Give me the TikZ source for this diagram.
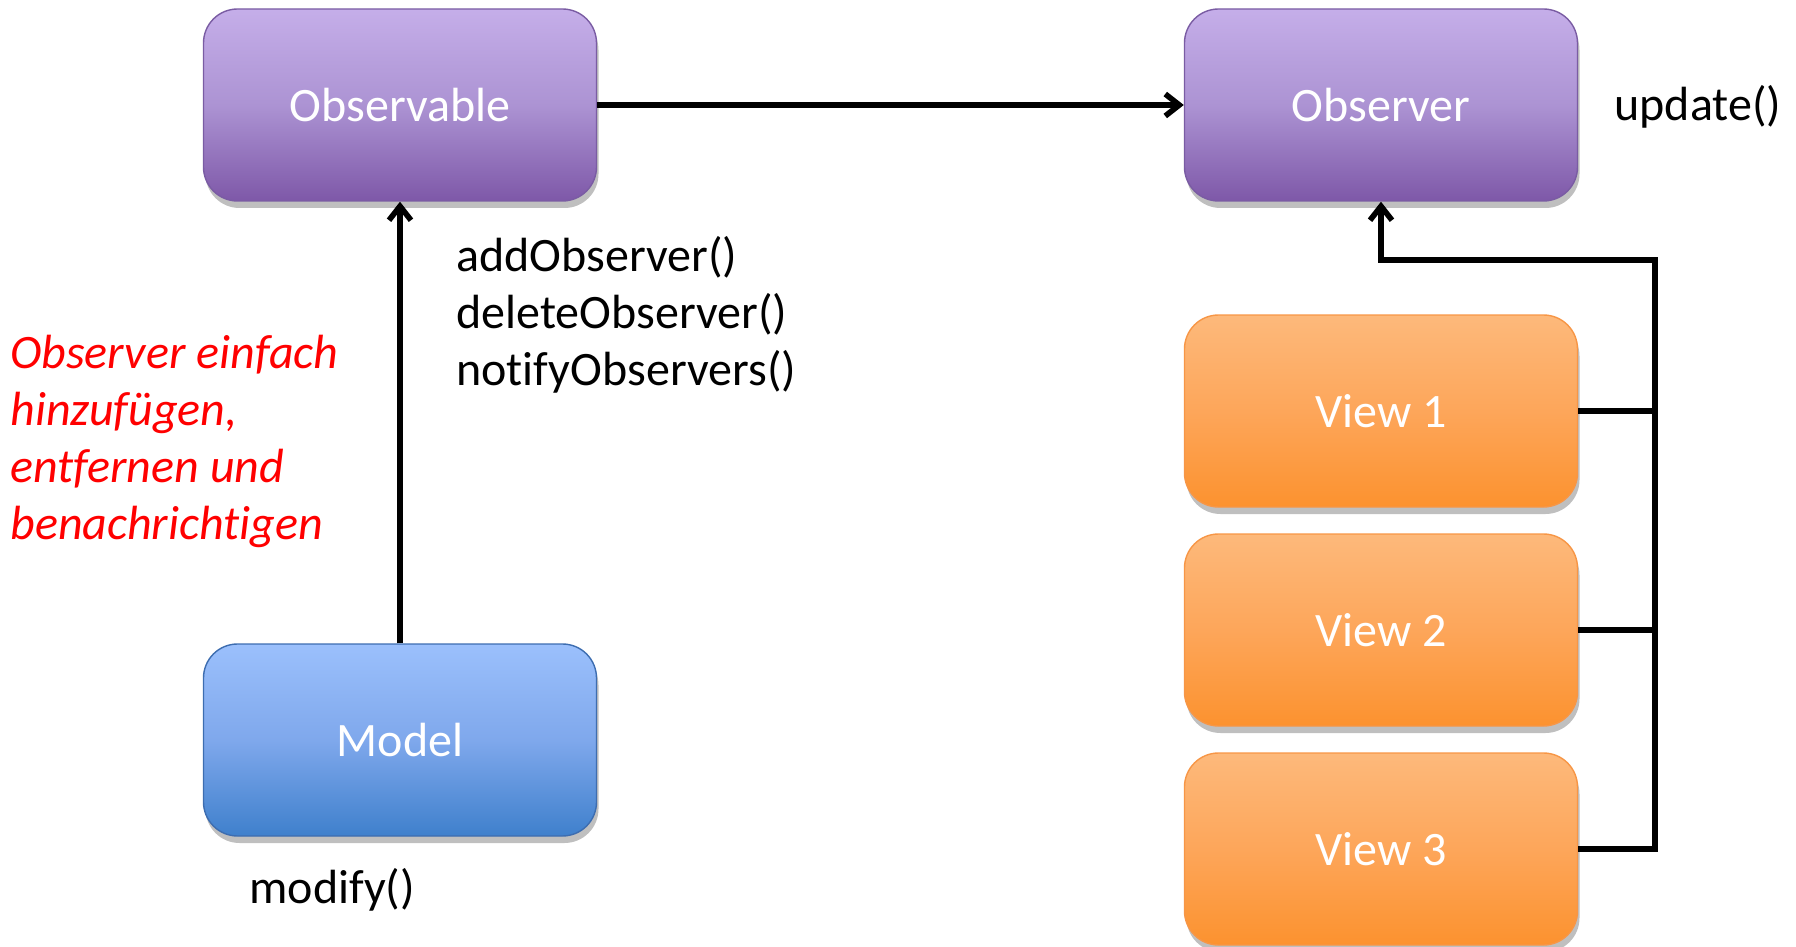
\documentclass[tikz,border=0pt]{standalone}
\usepackage{fontspec}
\setmainfont{Carlito}[Ligatures=NoCommon]
\usetikzlibrary{arrows.meta,shadows}
\definecolor{purpletop}{HTML}{C5AEE9}
\definecolor{purplemid}{HTML}{AC93D3}
\definecolor{purplebot}{HTML}{7E58A8}
\definecolor{purpleborder}{HTML}{7A5CA3}
\definecolor{bluetop}{HTML}{9BC0FC}
\definecolor{bluemid}{HTML}{7FA8EC}
\definecolor{bluebot}{HTML}{3F80CC}
\definecolor{blueborder}{HTML}{3D6DB0}
\definecolor{orangetop}{HTML}{FDB97B}
\definecolor{orangemid}{HTML}{FDA65A}
\definecolor{orangebot}{HTML}{FC922F}
\definecolor{orangeborder}{HTML}{F79646}
\definecolor{redtext}{HTML}{FF0000}
\tikzset{
  x=0.5pt, y=-0.5pt,
  box/.style={rounded corners=17pt, minimum width=196.5pt, minimum height=96pt,
    draw, line width=0.7pt, text=white, font=\fontsize{24}{29}\selectfont,
    drop shadow={shadow xshift=1pt, shadow yshift=-3.5pt, opacity=0.25, fill=black}},
  purplebox/.style={box, draw=purpleborder, top color=purpletop, bottom color=purplebot, middle color=purplemid},
  bluebox/.style={box, draw=blueborder, top color=bluetop, bottom color=bluebot, middle color=bluemid},
  orangebox/.style={box, draw=orangeborder, top color=orangetop, bottom color=orangebot, middle color=orangemid},
  wire/.style={line width=2.8pt, black},
  conn/.style={wire, -{Straight Barb[length=7pt,width=11pt,line width=2.8pt]}},
  label/.style={inner sep=0pt, anchor=west, align=left, font=\fontsize{24}{28.5}\selectfont},
  note/.style={label, text=redtext, font=\fontsize{24}{28.5}\selectfont\itshape},
}
\begin{document}
\begin{tikzpicture}
\useasboundingbox (0,0) rectangle (1796,947);
\node[purplebox] (observable) at (400,105) {Observable};
\node[purplebox] (observer) at (1381,105) {Observer};
\node[bluebox] (model) at (400,740) {Model};
\node[orangebox] (v1) at (1381,411) {View 1};
\node[orangebox] (v2) at (1381,630) {View 2};
\node[orangebox] (v3) at (1381,849) {View 3};

\node[label] (upd) at (1614,107) {update()};
\node[label] (methods) at (456,315) {addObserver()\\deleteObserver()\\notifyObservers()};
\node[label] (modify) at (249,890) {modify()};
\node[note] (hint) at (10,441) {Observer einfach\\hinzufügen,\\entfernen und\\benachrichtigen};

\coordinate (bustop) at (1655,260);
\coordinate (busbot) at (1655,849);

\draw[conn] (observable) -- (observer);
\draw[conn] (model) -- (observable);
\draw[conn] (v3.east) -- (busbot) -- (bustop) -| (observer.south);
\draw[wire] (v1.east) -- (v1.east -| bustop);
\draw[wire] (v2.east) -- (v2.east -| bustop);
\end{tikzpicture}
\end{document}
